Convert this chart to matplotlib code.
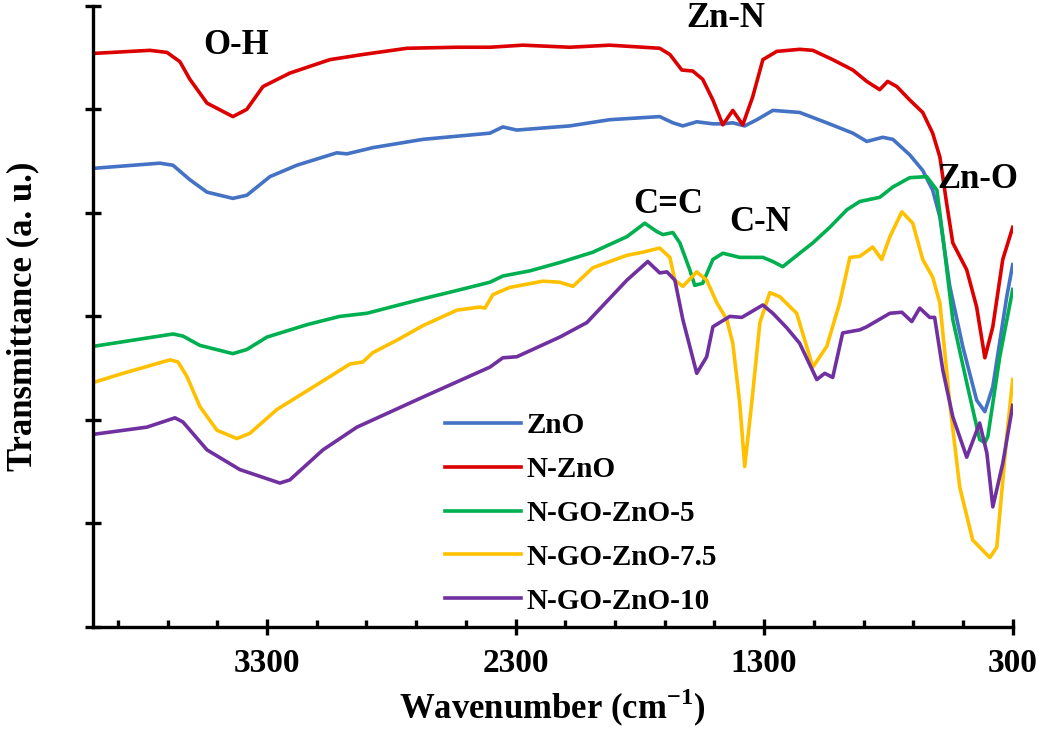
import matplotlib
matplotlib.use("Agg")
import matplotlib.pyplot as plt
from matplotlib.ticker import MultipleLocator

plt.rcParams["font.family"] = ["Liberation Serif", "DejaVu Serif"]
plt.rcParams["font.weight"] = "bold"
plt.rcParams["mathtext.fontset"] = "custom"
plt.rcParams["mathtext.rm"] = "Liberation Serif:bold"
plt.rcParams["mathtext.bf"] = "Liberation Serif:bold"

# ---- data (wavenumber cm-1, transmittance a.u.) ----
zno_wn = [4000, 3731, 3678, 3610, 3541, 3437, 3381, 3288, 3180, 3019, 2978, 2874, 2673, 2403,
          2351, 2295, 2082, 1921, 1720, 1667, 1627, 1571, 1506, 1466, 1426, 1378, 1329, 1265,
          1157, 1048, 943, 887, 823, 782, 714, 662, 622, 593, 553, 501, 445, 412, 380, 324, 300]
zno_t = [44.3, 44.8, 44.6, 43.2, 42.0, 41.4, 41.7, 43.5, 44.6, 45.8, 45.7, 46.3, 47.1, 47.7,
         48.3, 48.0, 48.4, 49.0, 49.3, 48.7, 48.4, 48.8, 48.6, 48.6, 48.7, 48.4, 49.0, 49.9,
         49.7, 48.7, 47.7, 46.9, 47.3, 47.1, 45.6, 44.1, 42.2, 39.6, 32.9, 27.1, 21.9, 20.8,
         23.2, 31.9, 35.0]

nzno_wn = [4000, 3771, 3702, 3650, 3610, 3541, 3437, 3381, 3316, 3208, 3047, 2914, 2737, 2536,
           2403, 2271, 2082, 1921, 1720, 1679, 1631, 1587, 1547, 1506, 1466, 1426, 1386, 1346,
           1305, 1249, 1157, 1104, 1024, 943, 887, 835, 803, 766, 714, 662, 622, 593, 565, 541,
           485, 445, 412, 380, 340, 300]
nzno_t = [55.4, 55.7, 55.5, 54.6, 52.9, 50.6, 49.3, 50.0, 52.2, 53.5, 54.8, 55.3, 55.9, 56.0,
          56.0, 56.2, 56.0, 56.2, 55.9, 55.3, 53.8, 53.7, 52.9, 50.9, 48.5, 49.9, 48.5, 51.2,
          54.8, 55.6, 55.8, 55.7, 54.8, 53.8, 52.7, 51.9, 52.7, 52.2, 50.9, 49.7, 47.7, 45.4,
          40.8, 37.1, 34.5, 30.9, 26.0, 29.0, 35.5, 38.6]

go5_wn = [4000, 3678, 3638, 3570, 3437, 3381, 3300, 3139, 3007, 2898, 2673, 2536, 2403, 2351,
          2242, 2122, 1989, 1852, 1780, 1732, 1707, 1667, 1639, 1599, 1579, 1547, 1506, 1466,
          1398, 1358, 1305, 1265, 1225, 1157, 1104, 1036, 967, 915, 835, 782, 714, 646, 605,
          581, 541, 485, 433, 412, 400, 352, 300]
go5_t = [27.1, 28.3, 28.1, 27.2, 26.4, 26.8, 28.0, 29.2, 30.0, 30.3, 31.7, 32.5, 33.3, 33.9,
         34.4, 35.2, 36.2, 37.7, 39.0, 38.2, 37.9, 38.1, 37.1, 34.5, 33.0, 33.2, 35.5, 36.1,
         35.7, 35.7, 35.7, 35.3, 34.8, 36.1, 37.1, 38.6, 40.3, 41.1, 41.5, 42.5, 43.4, 43.5,
         42.2, 37.7, 29.7, 23.6, 18.1, 17.8, 18.4, 26.1, 32.6]

go75_wn = [4000, 3879, 3690, 3658, 3622, 3570, 3501, 3421, 3369, 3260, 3099, 2966, 2914, 2874,
           2777, 2673, 2536, 2444, 2423, 2391, 2323, 2190, 2122, 2069, 1989, 1852, 1788, 1720,
           1679, 1659, 1627, 1571, 1531, 1490, 1450, 1426, 1398, 1378, 1350, 1317, 1277, 1237,
           1169, 1104, 1048, 996, 955, 915, 863, 827, 794, 746, 702, 662, 622, 593, 553, 513,
           461, 392, 364, 324, 300]
go75_t = [23.6, 24.5, 25.8, 25.6, 24.2, 21.3, 19.0, 18.2, 18.7, 21.0, 23.4, 25.4, 25.6, 26.5,
          27.7, 29.1, 30.6, 30.9, 30.8, 32.1, 32.8, 33.4, 33.3, 32.9, 34.7, 35.9, 36.2, 36.6,
          35.7, 33.5, 32.9, 34.3, 33.5, 31.3, 29.7, 27.4, 21.6, 15.5, 21.6, 29.4, 32.3, 31.9,
          30.3, 25.1, 27.1, 31.3, 35.7, 35.8, 36.7, 35.5, 37.7, 40.1, 39.0, 35.5, 33.8, 31.3,
          21.6, 13.5, 8.4, 6.7, 7.7, 18.4, 23.9]

go10_wn = [4000, 3783, 3670, 3638, 3541, 3409, 3248, 3208, 3075, 2938, 2673, 2403, 2351, 2295,
           2122, 2013, 1852, 1768, 1720, 1691, 1659, 1627, 1571, 1531, 1506, 1438, 1390, 1305,
           1265, 1209, 1157, 1088, 1056, 1024, 984, 915, 887, 794, 746, 706, 674, 634, 614, 581,
           541, 485, 433, 404, 380, 340, 300]
go10_t = [18.6, 19.3, 20.2, 19.8, 17.1, 15.2, 13.9, 14.2, 17.1, 19.3, 22.2, 25.1, 26.0, 26.1,
          28.0, 29.4, 33.5, 35.3, 34.2, 34.3, 33.5, 29.7, 24.5, 26.1, 29.0, 30.0, 29.9, 31.1,
          30.3, 28.9, 27.4, 23.9, 24.5, 24.1, 28.4, 28.7, 29.0, 30.3, 30.4, 29.5, 30.8, 29.9,
          29.9, 24.8, 20.3, 16.4, 19.7, 16.8, 11.6, 15.8, 21.4]

series = [
    ("ZnO", zno_wn, zno_t, "#4472C4"),
    ("N-ZnO", nzno_wn, nzno_t, "#DC0000"),
    ("N-GO-ZnO-5", go5_wn, go5_t, "#00B050"),
    ("N-GO-ZnO-7.5", go75_wn, go75_t, "#FFC000"),
    ("N-GO-ZnO-10", go10_wn, go10_t, "#7030A0"),
]

# band labels: text, wavenumber, transmittance
bands = [("O-H", 3425, 56.2), ("Zn-N", 1454, 58.8), ("Zn-O", 440, 43.2),
         ("C=C", 1687, 40.8), ("C-N", 1317, 39.1)]

fig = plt.figure(figsize=(10.56, 7.29), dpi=100)
ax = fig.add_axes([0.088, 0.140, 0.871, 0.852])

for name, wn, t, color in series:
    ax.plot(wn, t, color=color, lw=2.6, label=name, solid_joinstyle="round")

for txt, wn, t in bands:
    ax.text(wn, t, txt, ha="center", va="center", fontsize=25, fontweight="bold")

ax.set_xlim(4000, 300)
ax.set_ylim(0, 60)
ax.set_xticks([3300, 2300, 1300, 300])
ax.xaxis.set_minor_locator(MultipleLocator(200, offset=100))
ax.yaxis.set_major_locator(MultipleLocator(10))
ax.set_yticklabels([])

for side in ["top", "right"]:
    ax.spines[side].set_visible(False)
for side in ["left", "bottom"]:
    ax.spines[side].set_linewidth(2.4)

ax.tick_params(axis="x", which="major", direction="inout", length=12, width=2.4,
               labelsize=24, pad=9)
ax.tick_params(axis="x", which="minor", direction="in", length=5, width=2.4)
ax.tick_params(axis="y", which="major", direction="inout", length=12, width=2.4)
for lab in ax.get_xticklabels():
    lab.set_fontweight("bold")

ax.set_xlabel(r"Wavenumber (cm$^{-1}$)", fontsize=25, fontweight="bold")
ax.xaxis.set_label_coords(0.5, -0.097)
ax.set_ylabel("Transmittance (a. u.)", fontsize=25, fontweight="bold")
ax.yaxis.set_label_coords(-0.058, 0.5)

leg = ax.legend(loc="upper left", bbox_to_anchor=(0.37, 0.365), frameon=False,
                borderaxespad=0, prop={"size": 21, "weight": "bold"}, handlelength=2.6,
                handletextpad=0.2, labelspacing=0.58)

fig.savefig("out.png", dpi=100)
